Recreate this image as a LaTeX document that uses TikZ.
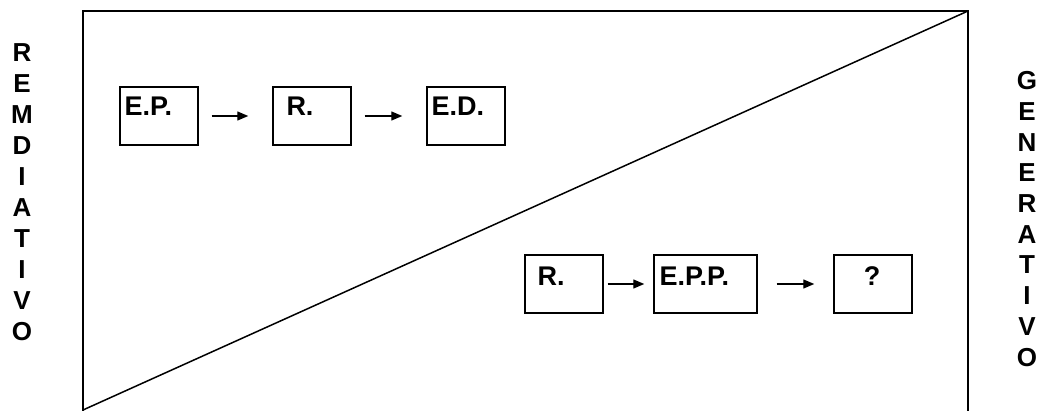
\documentclass[tikz,border=0pt]{standalone}
\usepackage{fontspec}
\setmainfont{Liberation Sans}
\usetikzlibrary{positioning}
\usetikzlibrary{arrows.meta}

\tikzset{
    stagebox/.style={draw=black, line width=1.4pt, minimum width=78pt, minimum height=58pt, inner sep=0pt},
    stagetext/.style={anchor=north west, inner sep=0pt, font=\bfseries\fontsize{27}{27}\selectfont},
    flow/.style={-{Triangle[length=11pt,width=9pt]}, line width=1.3pt},
    sideword/.style={align=center, inner sep=0pt}
}

\begin{document}
\begin{tikzpicture}[x=1pt, y=-1pt]
    \useasboundingbox (0,0) rectangle (1039,411);

    % Draw frame and diagonal
    \draw[line width=1.5pt] (83,411) -- (83,11) -- (968,11) -- (968,411);
    \draw[line width=1.5pt] (83,410) -- (968,11);

    % Side words
    \node[sideword, font=\bfseries\fontsize{26}{31}\selectfont] (remd) at (22,192.5)
        {R\\E\\M\\D\\I\\A\\T\\I\\V\\O};
    \node[sideword, font=\bfseries\fontsize{26}{30.7}\selectfont] (gene) at (1027,219)
        {G\\E\\N\\E\\R\\A\\T\\I\\V\\O};

    % Upper chain
    \node[stagebox] (ep) at (159,116) {};
    \node[stagebox] (ra) at (312,116) {};
    \node[stagebox] (ed) at (466,116) {};
    \node[stagetext] (ep-t) at ([shift={(5,10)}]ep.north west) {E.P.};
    \node[stagetext] (ra-t) at ([shift={(14,10)}]ra.north west) {R.};
    \node[stagetext] (ed-t) at ([shift={(5,10)}]ed.north west) {E.D.};

    % Lower chain
    \node[stagebox] (rb) at (564,284) {};
    \node[stagebox, minimum width=103pt] (epp) at (705.5,284) {};
    \node[stagebox] (what) at (873,284) {};
    \node[stagetext] (rb-t) at ([shift={(13,12)}]rb.north west) {R.};
    \node[stagetext] (epp-t) at ([shift={(6,12)}]epp.north west) {E.P.P.};
    \node[stagetext, anchor=north] (what-t) at ([shift={(-1,12)}]what.north) {?};

    % Arrows
    \draw[flow, shorten <=13pt, shorten >=24pt] (ep) -- (ra);
    \draw[flow, shorten <=13pt, shorten >=24pt] (ra) -- (ed);
    \draw[flow, shorten <=4pt, shorten >=9pt] (rb) -- (epp);
    \draw[flow, shorten <=19pt, shorten >=19pt] (epp) -- (what);

\end{tikzpicture}
\end{document}
